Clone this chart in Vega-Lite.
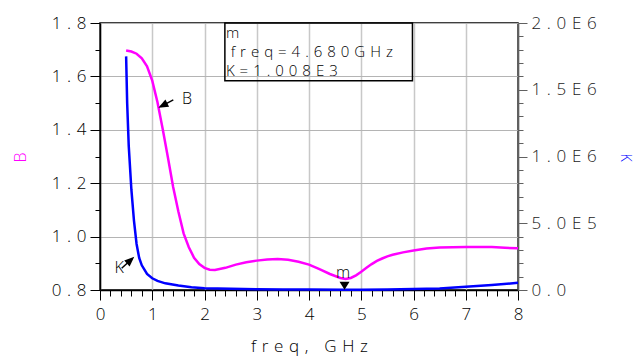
{
  "$schema": "https://vega.github.io/schema/vega-lite/v6.json",
  "width": 418,
  "height": 267,
  "autosize": {"type": "none"},
  "padding": {"left": 100, "top": 23, "right": 116, "bottom": 66},
  "background": "white",
  "config": {
    "view": {"stroke": "#000000", "strokeWidth": 1.5},
    "font": "Open Sans",
    "axis": {
      "labelFont": "Open Sans",
      "labelFontWeight": 300,
      "labelFontSize": 17,
      "labelColor": "#000000",
      "titleFont": "Open Sans",
      "titleFontWeight": 300,
      "labelOverlap": false,
      "labelFlush": false,
      "labelBound": false
    },
    "text": {"font": "Open Sans", "fontWeight": 300}
  },
  "encoding": {
    "x": {
      "field": "freq",
      "type": "quantitative",
      "scale": {"domain": [0, 8], "nice": false, "zero": false},
      "axis": {
        "values": [0,0.2,0.4,0.6,0.8,1,1.2,1.4,1.6,1.8,2,2.2,2.4,2.6,2.8,3,3.2,3.4,3.6,3.8,4,4.2,4.4,4.6,4.8,5,5.2,5.4,5.6,5.8,6,6.2,6.4,6.6,6.8,7,7.2,7.4,7.6,7.8,8],
        "labelExpr": "abs(datum.value - round(datum.value)) < 0.001 ? format(datum.value, 'd') : ''",
        "labelPadding": 6,
        "tickSize": {"condition": {"test": "abs(datum.value - round(datum.value)) < 0.001", "value": 10}, "value": 6},
        "tickColor": "#000000",
        "tickWidth": 1,
        "domainColor": "#000000",
        "domainWidth": 1.5,
        "grid": true,
        "gridColor": "#c8c8c8",
        "gridWidth": 1.5,
        "gridOpacity": {"condition": {"test": "abs(datum.value - round(datum.value)) < 0.001", "value": 1}, "value": 0},
        "title": "f\u2009\u2009r\u2009\u2009e\u2009\u2009q\u2009\u2009,\u2009\u2009 \u2009\u2009G\u2009\u2009H\u2009\u2009z",
        "titleFontSize": 17,
        "titleColor": "#000000",
        "titleX": 209,
        "titleY": 61,
        "titleAlign": "center",
        "titleBaseline": "alphabetic"
      }
    }
  },
  "layer": [
    {
      "encoding": {
        "y": {
          "field": "B",
          "type": "quantitative",
          "scale": {"domain": [0.8, 1.8], "nice": false, "zero": false},
          "axis": {
            "orient": "left",
            "values": [0.8,0.9,1.0,1.1,1.2,1.3,1.4,1.5,1.6,1.7,1.8],
            "labelExpr": "abs(datum.value * 5 - round(datum.value * 5)) < 0.001 ? join(split(format(datum.value, '.1f'), ''), '\u2009\u2009') : ''",
            "labelPadding": 4,
            "labelBaseline": "middle",
            "tickSize": {"condition": {"test": "abs(datum.value * 5 - round(datum.value * 5)) < 0.001", "value": 10}, "value": 5},
            "tickColor": "#000000",
            "domainColor": "#000000",
            "domainWidth": 1.5,
            "grid": true,
            "gridColor": "#b4b4b4",
            "gridWidth": 1,
            "gridOpacity": {"condition": {"test": "abs(datum.value * 5 - round(datum.value * 5)) < 0.001", "value": 1}, "value": 0},
            "title": "B",
            "titleColor": "#ff00ff",
            "titleFontSize": 16,
            "titleAngle": -90,
            "titleX": -80,
            "titleY": 134,
            "titleAlign": "center",
            "titleBaseline": "middle"
          }
        }
      },
      "layer": [
        {
          "data": {"values": [
            {"freq": 0.5, "B": 1.697}, {"freq": 0.6, "B": 1.693}, {"freq": 0.7, "B": 1.685},
            {"freq": 0.8, "B": 1.668}, {"freq": 0.9, "B": 1.638}, {"freq": 1.0, "B": 1.584},
            {"freq": 1.1, "B": 1.503}, {"freq": 1.2, "B": 1.403}, {"freq": 1.3, "B": 1.296},
            {"freq": 1.4, "B": 1.186}, {"freq": 1.5, "B": 1.094}, {"freq": 1.6, "B": 1.012},
            {"freq": 1.7, "B": 0.96}, {"freq": 1.8, "B": 0.921}, {"freq": 1.9, "B": 0.897},
            {"freq": 2.0, "B": 0.883}, {"freq": 2.1, "B": 0.876}, {"freq": 2.2, "B": 0.875},
            {"freq": 2.4, "B": 0.883}, {"freq": 2.6, "B": 0.895}, {"freq": 2.8, "B": 0.904},
            {"freq": 3.0, "B": 0.91}, {"freq": 3.2, "B": 0.914}, {"freq": 3.4, "B": 0.916},
            {"freq": 3.6, "B": 0.913}, {"freq": 3.8, "B": 0.906}, {"freq": 4.0, "B": 0.895},
            {"freq": 4.2, "B": 0.878}, {"freq": 4.4, "B": 0.86}, {"freq": 4.6, "B": 0.845},
            {"freq": 4.7, "B": 0.841}, {"freq": 4.8, "B": 0.845}, {"freq": 4.9, "B": 0.855},
            {"freq": 5.0, "B": 0.868}, {"freq": 5.1, "B": 0.883}, {"freq": 5.2, "B": 0.897},
            {"freq": 5.3, "B": 0.909}, {"freq": 5.4, "B": 0.918}, {"freq": 5.5, "B": 0.926},
            {"freq": 5.6, "B": 0.932}, {"freq": 5.8, "B": 0.941}, {"freq": 6.0, "B": 0.948},
            {"freq": 6.25, "B": 0.955}, {"freq": 6.5, "B": 0.959}, {"freq": 7.0, "B": 0.961},
            {"freq": 7.5, "B": 0.961}, {"freq": 7.75, "B": 0.958}, {"freq": 8.0, "B": 0.956}
          ]},
          "mark": {"type": "line", "color": "#ff00ff", "strokeWidth": 2.5}
        },
        {
          "data": {"values": [{"freq": 2.39, "freq2": 5.98, "B": 1.8, "B2": 1.584}]},
          "mark": {"type": "rect", "fill": "transparent", "stroke": "#000000", "strokeWidth": 1.5},
          "encoding": {"x2": {"field": "freq2"}, "y2": {"field": "B2"}}
        },
        {
          "data": {"values": [
            {"freq": 2.41, "B": 1.7427, "line": "m"},
            {"freq": 2.5, "B": 1.6725, "line": "freq=4.680GHz"},
            {"freq": 2.41, "B": 1.603, "line": "K=1.008E3"}
          ]},
          "mark": {"type": "text", "align": "left", "baseline": "alphabetic", "fontSize": 15, "color": "#000000", "text": {"expr": "join(split(datum.line, ''), '\u2009\u2009')"}}
        },
        {
          "data": {"values": [{"freq": 1.403, "B": 1.512, "freq2": 1.16, "B2": 1.487}]},
          "mark": {"type": "rule", "color": "#000000", "strokeWidth": 1.5},
          "encoding": {"x2": {"field": "freq2"}, "y2": {"field": "B2"}}
        },
        {
          "data": {"values": [{"freq": 1.117, "B": 1.483}]},
          "mark": {"type": "point", "shape": "M0,0L-2,-0.8L-2,0.8Z", "size": 100, "angle": 152.8, "filled": true, "color": "#000000", "opacity": 1}
        },
        {
          "data": {"values": [{"freq": 1.665, "B": 1.515, "label": "B"}]},
          "mark": {"type": "text", "align": "center", "baseline": "middle", "fontSize": 16, "color": "#000000"},
          "encoding": {"text": {"field": "label"}}
        }
      ]
    },
    {
      "encoding": {
        "y": {
          "field": "K",
          "type": "quantitative",
          "scale": {"domain": [0, 2000000], "nice": false},
          "axis": {
            "orient": "right",
            "values": [0,100000,200000,300000,400000,500000,600000,700000,800000,900000,1000000,1100000,1200000,1300000,1400000,1500000,1600000,1700000,1800000,1900000,2000000],
            "labelExpr": "datum.value % 500000 == 0 ? join(split(datum.value == 0 ? '0.0' : replace(format(datum.value, '.1e'), 'e+', 'E'), ''), '\u2009\u2009') : ''",
            "labelPadding": 4,
            "labelBaseline": "middle",
            "labelColor": "#1a1a1a",
            "tickSize": {"condition": {"test": "datum.value % 500000 == 0", "value": 9}, "value": 5},
            "tickColor": "#606060",
            "domainColor": "#606060",
            "domainWidth": 1.5,
            "grid": false,
            "title": "K",
            "titleColor": "#0000ff",
            "titleFontSize": 14,
            "titleAngle": 90,
            "titleX": 106,
            "titleY": 134,
            "titleAlign": "center",
            "titleBaseline": "middle"
          }
        }
      },
      "layer": [
        {
          "data": {"values": [
            {"freq": 0.5, "K": 1750000}, {"freq": 0.52, "K": 1400000}, {"freq": 0.55, "K": 1080000},
            {"freq": 0.6, "K": 755000}, {"freq": 0.65, "K": 520000}, {"freq": 0.7, "K": 345000},
            {"freq": 0.75, "K": 240000}, {"freq": 0.8, "K": 185000}, {"freq": 0.9, "K": 120000},
            {"freq": 1.0, "K": 88000}, {"freq": 1.1, "K": 68000}, {"freq": 1.25, "K": 50000},
            {"freq": 1.5, "K": 33000}, {"freq": 1.75, "K": 20000}, {"freq": 2.0, "K": 14000},
            {"freq": 2.5, "K": 9000}, {"freq": 3.0, "K": 6000}, {"freq": 3.5, "K": 4000},
            {"freq": 4.0, "K": 3000}, {"freq": 4.68, "K": 1008}, {"freq": 5.0, "K": 1500},
            {"freq": 5.5, "K": 3500}, {"freq": 6.0, "K": 7000}, {"freq": 6.5, "K": 12000},
            {"freq": 7.0, "K": 24000}, {"freq": 7.5, "K": 37000}, {"freq": 8.0, "K": 54000}
          ]},
          "mark": {"type": "line", "color": "#0000ff", "strokeWidth": 2.5}
        },
        {
          "data": {"values": [{"freq": 0.415, "K": 162500, "freq2": 0.62, "K2": 236000}]},
          "mark": {"type": "rule", "color": "#000000", "strokeWidth": 1.5},
          "encoding": {"x2": {"field": "freq2"}, "y2": {"field": "K2"}}
        },
        {
          "data": {"values": [{"freq": 0.656, "K": 249400}]},
          "mark": {"type": "point", "shape": "M0,0L-2,-0.8L-2,0.8Z", "size": 100, "angle": 317.4, "filled": true, "color": "#000000", "opacity": 1}
        },
        {
          "data": {"values": [{"freq": 0.364, "K": 165000, "label": "K"}]},
          "mark": {"type": "text", "align": "center", "baseline": "middle", "fontSize": 16, "color": "#000000"},
          "encoding": {"text": {"field": "label"}}
        },
        {
          "data": {"values": [{"freq": 4.68, "K": 1008}]},
          "mark": {"type": "point", "shape": "M-1,-1.6L1,-1.6L0,0Z", "size": 100, "filled": true, "color": "#000000", "opacity": 1}
        },
        {
          "data": {"values": [{"freq": 4.65, "K": 127300, "label": "m"}]},
          "mark": {"type": "text", "align": "center", "baseline": "middle", "fontSize": 16, "color": "#000000"},
          "encoding": {"text": {"field": "label"}}
        }
      ]
    }
  ],
  "resolve": {"scale": {"y": "independent"}}
}
